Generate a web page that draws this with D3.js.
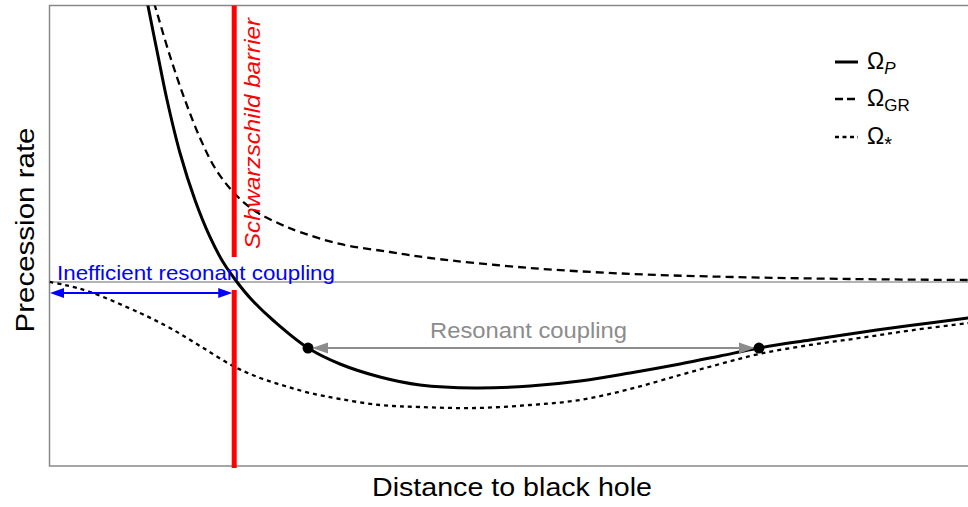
<!DOCTYPE html>
<html><head><meta charset="utf-8">
<script src="https://cdn.jsdelivr.net/npm/d3@7"></script>
<style>
html,body{margin:0;padding:0;background:#fff;}
svg{display:block;font-family:"Liberation Sans",Arial,Helvetica,sans-serif;}
</style></head>
<body>
<svg id="chart" width="968" height="507"></svg>
<script>
// ---- data (arbitrary units: distance 0..10, rate 0..10) ----
const omegaP_x = [1.039, 1.072, 1.181, 1.279, 1.420, 1.583, 1.746, 1.888, 2.040, 2.203, 2.454, 2.813, 3.161, 3.596, 4.031, 4.630, 5.229, 5.773, 6.317, 6.861, 7.296, 7.720, 8.275, 8.819, 9.363, 9.995, 10.34];
const omegaP_y = [10.337, 9.989, 8.903, 7.948, 6.797, 5.776, 4.973, 4.430, 3.996, 3.605, 3.127, 2.562, 2.215, 1.933, 1.759, 1.694, 1.737, 1.846, 2.020, 2.215, 2.389, 2.562, 2.736, 2.899, 3.051, 3.214, 3.312];
const omegaGR_x = [1.094, 1.148, 1.311, 1.474, 1.638, 1.801, 2.008, 2.236, 2.508, 2.726, 3.161, 3.705, 4.140, 5.229, 6.349, 7.437, 8.711, 9.995, 10.34];
const omegaGR_y = [10.337, 9.989, 8.903, 7.948, 7.123, 6.471, 5.928, 5.537, 5.255, 5.081, 4.821, 4.647, 4.517, 4.300, 4.169, 4.104, 4.061, 4.039, 4.039];
const omegaS_x = [0.0, 0.169, 0.441, 0.985, 1.311, 1.638, 1.997, 2.291, 2.563, 2.835, 3.161, 3.596, 4.031, 4.630, 5.229, 5.773, 6.317, 6.861, 7.296, 7.720, 8.275, 8.819, 9.363, 9.995, 10.34];
const omegaS_y = [3.996, 3.931, 3.779, 3.322, 2.997, 2.606, 2.172, 1.911, 1.737, 1.585, 1.455, 1.325, 1.281, 1.259, 1.325, 1.433, 1.672, 1.976, 2.215, 2.432, 2.628, 2.780, 2.942, 3.105, 3.203];
const referenceRate = 3.996;            // horizontal reference line
const barrierX = 2.01;                  // Schwarzschild barrier
const resonancePoints = [2.813, 7.720]; // resonance crossings on Omega_P
const legendLabels = [["Ω", "P"], ["Ω", "GR"], ["Ω", "*"]];
const xTitle = "Distance to black hole";
const yTitle = "Precession rate";

const series = [
  {xs: omegaP_x, ys: omegaP_y, width: 3, dash: null, legDash: null},
  {xs: omegaGR_x, ys: omegaGR_y, width: 2.3, dash: "8,5", legDash: "8,4"},
  {xs: omegaS_x, ys: omegaS_y, width: 2.3, dash: "4,4", legDash: "4,3.5"}
];

// ---- layout ----
const L = 49.5, T = 5.5, R = 968.5, B = 466;
const x = d3.scaleLinear().domain([0, 10]).range([L, R]);
const y = d3.scaleLinear().domain([0, 10]).range([B, T]);

const svg = d3.select("#chart");
const defs = svg.append("defs");
defs.append("clipPath").attr("id", "plotclip").append("rect")
  .attr("x", L).attr("y", T).attr("width", R - L + 10).attr("height", B - T);

// frame
svg.append("rect").attr("x", L).attr("y", T).attr("width", R - L + 20).attr("height", B - T)
  .attr("fill", "none").attr("stroke", "#888").attr("stroke-width", 1.5);

// reference line
svg.append("line").attr("x1", x(0)).attr("x2", x(10.2)).attr("y1", y(referenceRate)).attr("y2", y(referenceRate))
  .attr("stroke", "#9a9a9a").attr("stroke-width", 1.5);

const plot = svg.append("g").attr("clip-path", "url(#plotclip)");
const line = d3.line().x(d => x(d[0])).y(d => y(d[1])).curve(d3.curveCatmullRom.alpha(0.5));

series.forEach(s => {
  const pts = s.xs.map((v, i) => [v, s.ys[i]]);
  plot.append("path").datum(pts).attr("d", line)
    .attr("fill", "none").attr("stroke", "#000").attr("stroke-width", s.width)
    .attr("stroke-dasharray", s.dash);
});

// Schwarzschild barrier
const bx = x(barrierX);
svg.append("line").attr("x1", bx).attr("x2", bx).attr("y1", T).attr("y2", 257)
  .attr("stroke", "#ff0000").attr("stroke-width", 5);
svg.append("line").attr("x1", bx).attr("x2", bx).attr("y1", 290).attr("y2", B + 2)
  .attr("stroke", "#ff0000").attr("stroke-width", 5);
svg.append("text").attr("transform", `translate(${bx + 26},249) rotate(-90)`)
  .attr("font-size", 22).attr("font-style", "italic").attr("fill", "#ff0000")
  .attr("textLength", 231).attr("lengthAdjust", "spacingAndGlyphs")
  .text("Schwarzschild barrier");

// helper: double-headed arrow
function dblArrow(x1, x2, yy, color, len, hw, sw) {
  svg.append("line").attr("x1", x1 + len - 1).attr("x2", x2 - len + 1).attr("y1", yy).attr("y2", yy)
    .attr("stroke", color).attr("stroke-width", sw);
  svg.append("path").attr("d", `M${x1},${yy}L${x1 + len},${yy - hw}L${x1 + len},${yy + hw}Z`).attr("fill", color);
  svg.append("path").attr("d", `M${x2},${yy}L${x2 - len},${yy - hw}L${x2 - len},${yy + hw}Z`).attr("fill", color);
}

// inefficient coupling arrow
dblArrow(x(0) + 0.5, bx - 2, 293, "#0000ff", 14, 5, 2);
svg.append("text").attr("x", 57).attr("y", 280).attr("font-size", 21).attr("fill", "#0000ff")
  .attr("textLength", 278).attr("lengthAdjust", "spacingAndGlyphs")
  .text("Inefficient resonant coupling");

// resonant coupling arrow
function interpY(v) {
  for (let i = 0; i < omegaP_x.length - 1; i++) {
    if (v >= omegaP_x[i] && v <= omegaP_x[i + 1]) {
      const t = (v - omegaP_x[i]) / (omegaP_x[i + 1] - omegaP_x[i]);
      return omegaP_y[i] + t * (omegaP_y[i + 1] - omegaP_y[i]);
    }
  }
  return omegaP_y[omegaP_y.length - 1];
}
const p0 = resonancePoints.map(v => [x(v), y(interpY(v))]);
dblArrow(p0[0][0] + 4, p0[1][0] - 4, 348, "#8c8c8c", 16, 5.5, 2);
svg.append("text").attr("x", 430).attr("y", 338).attr("font-size", 22).attr("fill", "#8c8c8c")
  .attr("textLength", 197).attr("lengthAdjust", "spacingAndGlyphs")
  .text("Resonant coupling");
svg.selectAll("circle.res").data(p0).join("circle").attr("class", "res")
  .attr("cx", d => d[0]).attr("cy", d => d[1]).attr("r", 5.5).attr("fill", "#000");

// legend
const legY = [62, 99, 137];
legendLabels.forEach((lab, i) => {
  const s = series[i];
  svg.append("line").attr("x1", 835).attr("x2", 858).attr("y1", legY[i]).attr("y2", legY[i])
    .attr("stroke", "#000").attr("stroke-width", s.width).attr("stroke-dasharray", s.legDash);
  const t = svg.append("text").attr("x", 867).attr("y", legY[i] + 7).attr("font-size", 23).attr("fill", "#000");
  t.append("tspan").text(lab[0]);
  const sub = t.append("tspan").attr("dy", lab[1] === "*" ? 7 : 5).attr("font-size", lab[1] === "*" ? 20 : 17).text(lab[1]);
  if (lab[1] === "P") sub.attr("font-style", "italic");
});

// axis titles
svg.append("text").attr("x", 512).attr("y", 496).attr("text-anchor", "middle").attr("font-size", 26)
  .attr("textLength", 280).attr("lengthAdjust", "spacingAndGlyphs")
  .attr("fill", "#000").text(xTitle);
svg.append("text").attr("transform", "translate(34,230) rotate(-90)").attr("text-anchor", "middle")
  .attr("font-size", 26).attr("textLength", 205).attr("lengthAdjust", "spacingAndGlyphs")
  .attr("fill", "#000").text(yTitle);
</script>
</body></html>
